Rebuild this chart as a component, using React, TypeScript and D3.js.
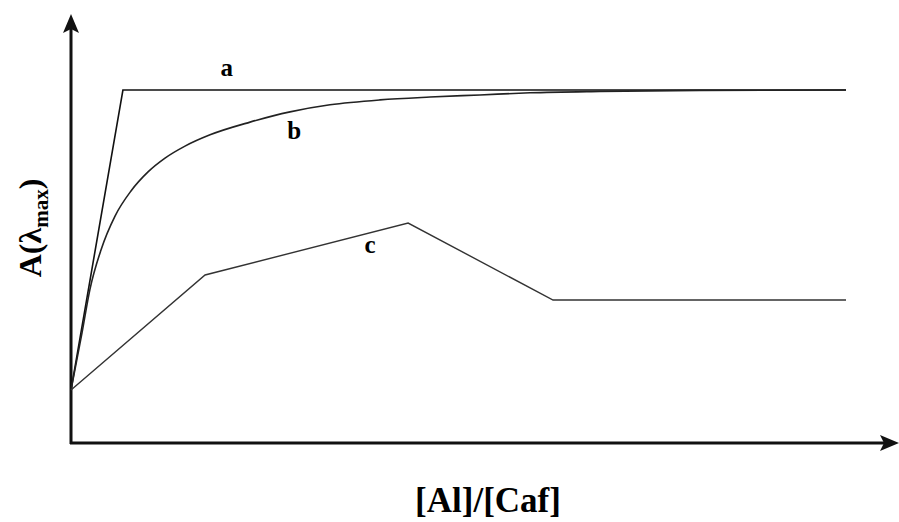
import React from "react";
import * as d3 from "d3";

const W = 899;
const H = 522;

// Curve a: linear rise then plateau
const seriesAX = [0, 0.67, 10];
const seriesAY = [1.5, 10, 10];

// Curve b: saturating rise
const seriesBX = [0, 0.142, 0.245, 0.387, 0.568, 0.774, 0.994, 1.213, 1.471, 1.794, 2.31, 2.826, 3.342, 3.987, 4.632, 5.277, 5.923, 6.826, 8.116, 10];
const seriesBY = [1.5, 3.12, 4.36, 5.47, 6.43, 7.14, 7.68, 8.07, 8.41, 8.73, 9.09, 9.38, 9.58, 9.72, 9.8, 9.86, 9.92, 9.96, 9.99, 10.0];

// Curve c: rise, peak, fall, plateau
const seriesCX = [0, 1.73, 4.35, 6.22, 10];
const seriesCY = [1.5, 4.76, 6.23, 4.05, 4.05];

const curveLabels = ["a", "b", "c"];
const labelX = [2.01, 2.88, 3.86];
const labelY = [10.4, 8.61, 5.38];

const xLabel = "[Al]/[Caf]";

export default function App() {
  const x = d3.scaleLinear().domain([0, 10]).range([71, 846]);
  const y = d3.scaleLinear().domain([0, 10]).range([443, 90]);

  const zip = (xs: number[], ys: number[]) => xs.map((v, i) => [v, ys[i]] as [number, number]);
  const lin = d3.line<[number, number]>().x((d) => x(d[0])).y((d) => y(d[1]));
  const smooth = d3
    .line<[number, number]>()
    .x((d) => x(d[0]))
    .y((d) => y(d[1]))
    .curve(d3.curveMonotoneX);

  const ax0 = x(0);
  const ay0 = y(0);
  const serif = "Liberation Serif";

  return (
    <svg
      width={W}
      height={H}
      style={{ position: "absolute", left: 0, top: 0, display: "block", background: "#fff" }}
    >
      {/* axes */}
      <line x1={ax0} y1={ay0 + 1} x2={ax0} y2={24} stroke="#111" strokeWidth={3} />
      <line x1={ax0 - 1} y1={ay0} x2={890} y2={ay0} stroke="#111" strokeWidth={3} />
      {/* arrow heads */}
      <path d={`M${ax0},14 L${ax0 + 8},33 L${ax0},29 L${ax0 - 8},33 Z`} fill="#111" />
      <path d={`M899,${ay0} L880,${ay0 - 8} L884,${ay0} L880,${ay0 + 8} Z`} fill="#111" />

      {/* curves */}
      <path d={lin(zip(seriesAX, seriesAY)) || ""} fill="none" stroke="#111" strokeWidth={1.6} />
      <path d={smooth(zip(seriesBX, seriesBY)) || ""} fill="none" stroke="#222" strokeWidth={1.6} />
      <path d={lin(zip(seriesCX, seriesCY)) || ""} fill="none" stroke="#333" strokeWidth={1.4} />

      {/* curve labels */}
      {curveLabels.map((t, i) => (
        <text
          key={t}
          x={x(labelX[i])}
          y={y(labelY[i])}
          textAnchor="middle"
          fontFamily={serif}
          fontWeight="bold"
          fontSize={25}
          fill="#000"
        >
          {t}
        </text>
      ))}

      {/* y label */}
      <text
        transform="translate(41,228) rotate(-90)"
        textAnchor="middle"
        fontFamily={serif}
        fontWeight="bold"
        fontSize={32}
        fill="#000"
      >
        A(λ
        <tspan fontSize={21} dy={7}>max</tspan>
        <tspan dy={-7}>)</tspan>
      </text>

      {/* x label */}
      <text
        x={488}
        y={512}
        textAnchor="middle"
        fontFamily={serif}
        fontWeight="bold"
        fontSize={35}
        fill="#000"
      >
        {xLabel}
      </text>
    </svg>
  );
}
